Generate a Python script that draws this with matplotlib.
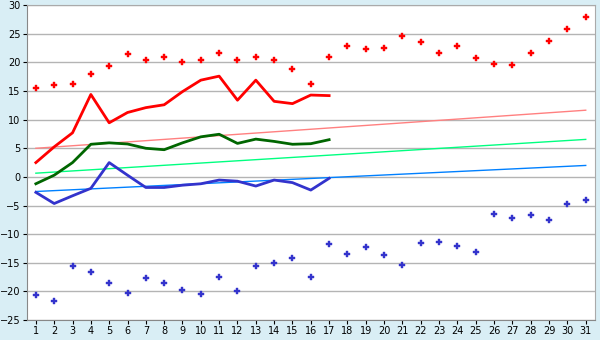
import matplotlib
matplotlib.use("Agg")
import matplotlib.pyplot as plt

days = list(range(1, 32))

max_temp = [15.6, 16.0, 16.15, 17.9, 19.3, 21.4, 20.5, 20.9, 20.0, 20.5,
            21.6, 20.5, 21.0, 20.5, 18.8, 16.15, 20.9, 22.8, 22.3, 22.6,
            24.7, 23.5, 21.6, 22.8, 20.7, 19.8, 19.5, 21.6, 23.7, 25.75, 27.85]
min_temp = [-20.7, -21.75, -15.6, -16.7, -18.6, -20.35, -17.7, -18.6, -19.8, -20.5,
            -17.55, -20.0, -15.6, -15.1, -14.2, -17.4, -11.8, -13.4, -12.3, -13.6,
            -15.45, -11.6, -11.45, -12.0, -13.2, -6.55, -7.25, -6.7, -7.6, -4.8, -4.1]

days_obs = list(range(1, 18))
obs_max = [2.5, 5.25, 7.7, 14.4, 9.45, 11.25, 12.1, 12.6, 14.9, 16.9,
           17.6, 13.4, 16.9, 13.2, 12.8, 14.3, 14.2]
obs_mean = [-1.2, 0.3, 2.5, 5.7, 5.95, 5.75, 5.0, 4.75, 5.95, 7.0,
            7.45, 5.85, 6.6, 6.2, 5.7, 5.8, 6.5]
obs_min = [-2.7, -4.65, -3.3, -2.0, 2.5, 0.3, -1.85, -1.85, -1.45, -1.2,
           -0.55, -0.75, -1.6, -0.55, -1.0, -2.3, -0.25]

# trend lines: value on day 1 and day 31
trend_days = [1, 31]
trend_max = [5.0, 11.65]
trend_mean = [0.65, 6.55]
trend_min = [-2.55, 2.0]

fig = plt.figure(figsize=(6, 3.4), dpi=100, facecolor="#d9eef5")
ax = fig.add_axes([0.0445, 0.0588, 0.947, 0.926])
ax.set_facecolor("white")

ax.plot(trend_days, trend_max, color="#ff8080", lw=1)
ax.plot(trend_days, trend_mean, color="#00ff80", lw=1)
ax.plot(trend_days, trend_min, color="#0080ff", lw=1)

ax.plot(days_obs, obs_max, color="#ff0000", lw=2)
ax.plot(days_obs, obs_mean, color="#006600", lw=2)
ax.plot(days_obs, obs_min, color="#3333cc", lw=2)

ax.plot(days, max_temp, ls="none", marker="P", ms=5, color="#ff0000",
        mec="#ff0000", mew=0.3)
ax.plot(days, min_temp, ls="none", marker="P", ms=5, color="#3333cc",
        mec="#3333cc", mew=0.3)

ax.set_xlim(0.5, 31.5)
ax.set_ylim(-25, 30)
ax.set_xticks(days)
ax.set_yticks(range(-25, 31, 5))
ax.yaxis.grid(True, color="#b4b4b4", lw=1)
ax.set_axisbelow(True)
ax.tick_params(labelsize=7, length=3, pad=1.5, color="black")
for side in ["top", "right"]:
    ax.spines[side].set_color("#aaaaaa")
for side in ["left", "bottom"]:
    ax.spines[side].set_color("#888888")

fig.savefig("out.png", dpi=100, facecolor=fig.get_facecolor())
